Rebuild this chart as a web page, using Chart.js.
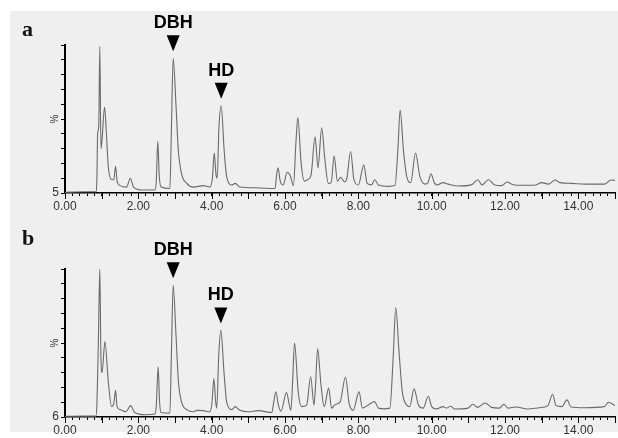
<!DOCTYPE html>
<html>
<head>
<meta charset="utf-8">
<script src="https://cdn.jsdelivr.net/npm/chart.js"></script>
<style>
  html, body { margin: 0; padding: 0; background: #fff; width: 618px; height: 438px; overflow: hidden; }
  #panel { position: absolute; left: 10px; top: 11px; width: 608px; height: 421px; background: #efefef; }
  .wrap { position: absolute; left: 0; width: 618px; height: 214px; }
  .tag { position: absolute; left: 22px; font: bold 22px/22px "Liberation Serif", "Times New Roman", serif; color: #111; }
</style>
</head>
<body>
<div id="panel"></div>
<div class="wrap" style="top:0"><canvas id="chartA" width="618" height="214"></canvas></div>
<div class="wrap" style="top:224px"><canvas id="chartB" width="618" height="214"></canvas></div>
<div class="tag" style="top:18px">a</div>
<div class="tag" style="top:227px">b</div>
<script>
// Retention time (min) and relative intensity (%)
const timesA = [0, 0.5, 0.84, 0.87, 0.89, 0.92, 0.95, 0.98, 1.01, 1.08, 1.13, 1.18, 1.27, 1.33, 1.38, 1.42, 1.5, 1.68, 1.78, 1.87, 2.1, 2.45, 2.49, 2.53, 2.57, 2.62, 2.86, 2.9, 2.95, 3.03, 3.09, 3.18, 3.32, 3.5, 3.77, 3.95, 4.02, 4.07, 4.12, 4.15, 4.2, 4.26, 4.34, 4.41, 4.55, 4.64, 4.77, 5.2, 5.73, 5.77, 5.81, 5.87, 5.95, 6.06, 6.14, 6.23, 6.3, 6.35, 6.44, 6.53, 6.62, 6.71, 6.82, 6.9, 7.0, 7.09, 7.18, 7.26, 7.34, 7.43, 7.52, 7.62, 7.68, 7.79, 7.88, 8.0, 8.15, 8.24, 8.36, 8.45, 8.55, 8.82, 9.0, 9.08, 9.14, 9.23, 9.32, 9.43, 9.56, 9.68, 9.82, 9.9, 9.98, 10.07, 10.15, 10.31, 10.45, 10.72, 11.08, 11.26, 11.37, 11.55, 11.72, 11.9, 12.06, 12.2, 12.53, 12.8, 13.0, 13.18, 13.37, 13.5, 13.8, 14.2, 14.71, 14.89, 15.0];
const valuesA = [0.5, 0.8, 0.8, 10, 40, 45, 99, 30, 36, 58, 40, 18, 9, 9, 18, 8, 5, 4, 10, 4, 2, 2, 8, 35, 12, 4, 3, 40, 91, 58, 29, 13, 6.5, 4, 5, 4, 10, 27, 12, 10, 45, 59, 29, 11, 5.4, 6.5, 4, 3.5, 3, 12, 17, 8, 5.4, 14, 12, 5, 35, 51, 20, 8, 9, 12, 38, 17, 44, 22, 6.5, 7, 25, 8, 10.6, 7.5, 9, 28, 9, 5.4, 19, 6.5, 5.5, 9, 5.4, 4.5, 5, 30, 56, 29, 11, 7, 27, 11, 6, 7, 13, 7, 5.4, 7, 6, 4.7, 5.5, 9, 5.5, 9, 5.4, 5, 7.4, 5.8, 5.2, 5.2, 7, 6, 8.8, 7, 6.5, 6, 6, 8.8, 8.5];

const timesB = [0, 0.5, 0.84, 0.87, 0.91, 0.95, 0.98, 1.01, 1.09, 1.18, 1.27, 1.33, 1.38, 1.42, 1.5, 1.66, 1.79, 1.9, 2.2, 2.45, 2.49, 2.54, 2.58, 2.62, 2.86, 2.9, 2.95, 3.03, 3.09, 3.18, 3.32, 3.5, 3.6, 3.77, 3.95, 4.01, 4.06, 4.11, 4.14, 4.19, 4.25, 4.34, 4.41, 4.55, 4.64, 4.77, 5.0, 5.27, 5.64, 5.68, 5.75, 5.82, 5.89, 6.04, 6.16, 6.21, 6.26, 6.36, 6.45, 6.59, 6.7, 6.79, 6.83, 6.89, 6.98, 7.07, 7.19, 7.27, 7.38, 7.5, 7.65, 7.75, 7.86, 8.02, 8.11, 8.2, 8.32, 8.44, 8.55, 8.7, 8.86, 8.95, 9.02, 9.11, 9.2, 9.32, 9.4, 9.52, 9.64, 9.77, 9.91, 10.0, 10.13, 10.31, 10.4, 10.52, 10.63, 10.99, 11.13, 11.25, 11.46, 11.63, 11.85, 11.97, 12.08, 12.3, 12.62, 12.94, 13.17, 13.3, 13.39, 13.55, 13.69, 13.8, 14.16, 14.71, 14.82, 15.0];
const valuesB = [0.5, 0.6, 0.6, 8, 51, 100, 40, 30, 51, 24, 7, 9, 18, 7, 5, 3.6, 7.7, 3, 1.5, 2, 8, 34, 10, 3, 2.5, 40, 89, 54, 25, 10, 5, 3.5, 4.5, 4.3, 3.5, 10, 26, 10, 6, 40, 58.5, 29, 10, 5, 7, 4.5, 3.5, 4.3, 3, 8, 17, 8, 4, 16.5, 4.5, 25, 50, 17, 7, 8, 27.4, 8, 20, 46, 22, 7, 19.5, 6, 8.6, 10, 27, 9, 4.5, 17, 6, 7, 9, 10.4, 6, 5.5, 6, 40, 74, 44, 17, 8, 7, 19, 8, 6, 14, 7, 5.4, 7, 6, 7.3, 5.4, 6, 8.6, 6.5, 9.5, 6.5, 6, 8.6, 6, 6.8, 5.4, 6.3, 7.7, 15.4, 7.7, 7, 11.6, 6.8, 6.3, 7, 10, 7.7];

// Marked peaks
const markNames = ["DBH", "HD"];
const markTimesA = [2.95, 4.26];
const markPeaksA = [91, 59];
const markTimesB = [2.95, 4.25];
const markPeaksB = [89, 58.5];

const baseLabelA = "5";
const baseLabelB = "6";

// longer tick marks on whole minutes
const majorTicks = {
  id: "majorTicks",
  afterDraw(chart) {
    const xs = chart.scales.x;
    const c = chart.ctx;
    const y0 = chart.chartArea.bottom;
    c.save();
    c.strokeStyle = "#000";
    c.lineWidth = 1;
    xs.ticks.forEach((tk) => {
      if (Math.abs(tk.value - Math.round(tk.value)) > 1e-6) return;
      const px = Math.round(xs.getPixelForValue(tk.value)) + 0.5;
      c.beginPath();
      c.moveTo(px, y0);
      c.lineTo(px, y0 + 6);
      c.stroke();
    });
    c.restore();
  },
};

// arrow + label above each marked peak
const peakMarks = {
  id: "peakMarks",
  afterDraw(chart, args, opts) {
    const xs = chart.scales.x;
    const ys = chart.scales.y;
    const c = chart.ctx;
    c.save();
    c.fillStyle = "#000";
    c.font = 'bold 18px "Liberation Sans", Arial, sans-serif';
    c.textAlign = "center";
    c.textBaseline = "alphabetic";
    opts.names.forEach((name, i) => {
      const px = xs.getPixelForValue(opts.times[i]);
      const tip = ys.getPixelForValue(opts.peaks[i]) - 7;
      const top = tip - 16;
      c.beginPath();
      c.moveTo(px - 6.5, top);
      c.lineTo(px + 6.5, top);
      c.lineTo(px, tip);
      c.closePath();
      c.fill();
      c.fillText(name, px, top - 7);
    });
    c.restore();
  },
};

function makeChart(id, times, values, baseLabel, markTimes, markPeaks) {
  const points = times.map((t, i) => ({ x: t, y: values[i] }));
  const tickFont = { family: '"Liberation Sans", Arial, sans-serif', size: 12 };

  return new Chart(document.getElementById(id), {
    type: "line",
    data: {
      datasets: [
        {
          data: points,
          borderColor: "#6a6a6a",
          borderWidth: 1.1,
          pointRadius: 0,
          cubicInterpolationMode: "monotone",
          fill: false,
        },
      ],
    },
    options: {
      responsive: false,
      animation: false,
      layout: { padding: { top: 45, left: 0, right: 0, bottom: 0 } },
      plugins: {
        legend: { display: false },
        tooltip: { enabled: false },
        peakMarks: { names: markNames, times: markTimes, peaks: markPeaks },
      },
      scales: {
        x: {
          type: "linear",
          min: 0,
          max: 15,
          afterFit: (s) => { s.height = 21; },
          border: { display: true, color: "#000", width: 1.5 },
          grid: { drawOnChartArea: false, drawTicks: true, tickLength: 3, tickColor: "#000" },
          ticks: {
            stepSize: 0.2,
            autoSkip: false,
            maxRotation: 0,
            padding: 3,
            color: "#333",
            font: tickFont,
            callback: (v) => {
              const r = Math.round(v);
              return Math.abs(v - r) < 1e-6 && r % 2 === 0 ? r.toFixed(2) : "";
            },
          },
        },
        y: {
          min: 0,
          max: 100,
          afterFit: (s) => { s.width = 65; },
          border: { display: true, color: "#000", width: 2 },
          grid: { drawOnChartArea: false, drawTicks: true, tickLength: 4, tickColor: "#000" },
          ticks: {
            stepSize: 10,
            autoSkip: false,
            padding: 2,
            color: "#333",
            font: tickFont,
            callback: (v) => (v === 0 ? baseLabel : ""),
          },
          title: {
            display: true,
            text: "%",
            color: "#333",
            font: { family: '"Liberation Sans", Arial, sans-serif', size: 10 },
            padding: { top: 49, bottom: 0 },
          },
        },
      },
    },
    plugins: [majorTicks, peakMarks],
  });
}

makeChart("chartA", timesA, valuesA, baseLabelA, markTimesA, markPeaksA);
makeChart("chartB", timesB, valuesB, baseLabelB, markTimesB, markPeaksB);
</script>
</body>
</html>
